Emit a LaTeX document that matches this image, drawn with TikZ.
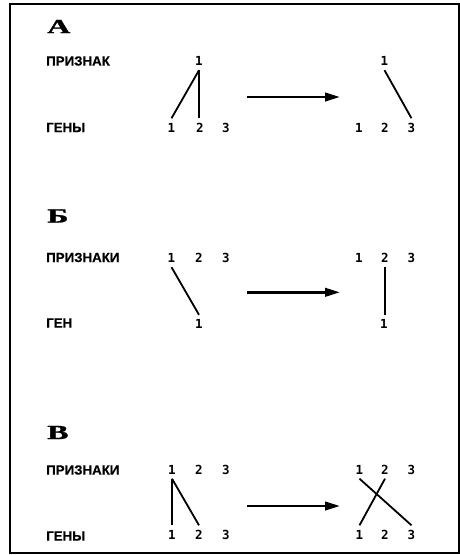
\documentclass[tikz,border=0pt]{standalone}
\usepackage{fontspec}
\setmainfont{Liberation Serif}
\newfontfamily\letterfont{Liberation Serif}[BoldFeatures={FakeBold=1.2}]
\newfontfamily\labfont{Liberation Sans}[BoldFeatures={FakeBold=0.4}]
\newfontfamily\numfont{DejaVu Sans Mono}
\usetikzlibrary{arrows.meta}
\tikzset{
  num/.style={font=\numfont\bfseries\fontsize{12.5}{12.5}\selectfont, inner xsep=0pt, inner ysep=4.5pt, text height=9pt, text depth=0pt},
  lab/.style={font=\labfont\bfseries\fontsize{13.3}{13.3}\selectfont, anchor=west, inner sep=0pt},
  letter/.style={font=\letterfont\bfseries\fontsize{20}{20}\selectfont, anchor=west, inner sep=0pt},
  link/.style={line width=1.8pt},
  bigarrow/.style={line width=2.6pt, -{Triangle[length=15pt,width=8.5pt]}},
  frame/.style={line width=2pt}
}
\newcommand{\wide}[1]{\scalebox{1.6}[1]{#1}}
\begin{document}
\begin{tikzpicture}[x=1pt,y=-1pt]
\useasboundingbox (0,0) rectangle (460,555);
\draw[frame] (9.5,3.5) rectangle (458.5,552.5);

% ---------- A ----------
\node[letter] (la) at (47,26.5) {\wide{A}};
\node[lab] (pa) at (46,61) {ПРИЗНАК};
\node[lab] (ga) at (46,127.5) {ГЕНЫ};
\node[num] (aLt1) at (199,61) {1};
\node[num] (aLb1) at (171.5,127.5) {1};
\node[num] (aLb2) at (200,127.5) {2};
\node[num] (aLb3) at (226,127.5) {3};
\draw[link] (aLt1.south) -- (aLb1.north);
\draw[link] (aLt1.south) -- (aLt1.south |- aLb2.north);
\coordinate (aAs) at (247,97);
\coordinate (aAe) at (340,97);
\draw[bigarrow] (aAs) -- (aAe);
\node[num] (aRt1) at (384.5,61) {1};
\node[num] (aRb1) at (359,127.5) {1};
\node[num] (aRb2) at (385,127.5) {2};
\node[num] (aRb3) at (411.5,127.5) {3};
\draw[link] (aRt1.south) -- (aRb3.north);

% ---------- Б ----------
\node[letter] (lb) at (47,216) {\wide{Б}};
\node[lab] (pb) at (46,257.5) {ПРИЗНАКИ};
\node[lab] (gb) at (46,323) {ГЕН};
\node[num] (bLt1) at (171.5,258) {1};
\node[num] (bLt2) at (199,258) {2};
\node[num] (bLt3) at (226,258) {3};
\node[num] (bLb1) at (199,324) {1};
\draw[link] (bLt1.south) -- (bLb1.north);
\coordinate (bAs) at (247,292.3);
\coordinate (bAe) at (340,292.3);
\draw[bigarrow] (bAs) -- (bAe);
\node[num] (bRt1) at (359,258) {1};
\node[num] (bRt2) at (385,258) {2};
\node[num] (bRt3) at (411.5,258) {3};
\node[num] (bRb1) at (384,324) {1};
\draw[link] (bRt2.south) -- (bRt2.south |- bRb1.north);

% ---------- В ----------
\node[letter] (lc) at (47,432.5) {\wide{В}};
\node[lab] (pc) at (46,470) {ПРИЗНАКИ};
\node[lab] (gc) at (46,536) {ГЕНЫ};
\node[num] (cLt1) at (172,469.5) {1};
\node[num] (cLt2) at (199,469.5) {2};
\node[num] (cLt3) at (226,469.5) {3};
\node[num] (cLb1) at (172,534.5) {1};
\node[num] (cLb2) at (199,534.5) {2};
\node[num] (cLb3) at (226,534.5) {3};
\draw[link] (cLt1.south) -- (cLb1.north);
\draw[link] (cLt1.south) -- (cLb2.north);
\coordinate (cAs) at (247,506);
\coordinate (cAe) at (340,506);
\draw[bigarrow] (cAs) -- (cAe);
\node[num] (cRt1) at (359.5,469.5) {1};
\node[num] (cRt2) at (385,469.5) {2};
\node[num] (cRt3) at (411.5,469.5) {3};
\node[num] (cRb1) at (359.5,534.5) {1};
\node[num] (cRb2) at (385,534.5) {2};
\node[num] (cRb3) at (411.5,534.5) {3};
\draw[link] (cRt1.south) -- (cRb3.north);
\draw[link] (cRt2.south) -- (cRb1.north);
\end{tikzpicture}
\end{document}
